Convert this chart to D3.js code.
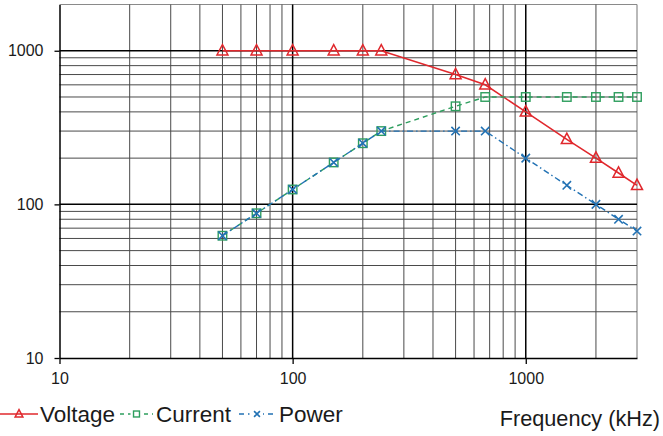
<!DOCTYPE html>
<html>
<head>
<meta charset="utf-8">
<script src="https://cdn.jsdelivr.net/npm/d3@7"></script>
<style>
  html, body { margin: 0; padding: 0; background: #fff; }
  svg { display: block; font-family: "Liberation Sans", Arial, sans-serif; }
</style>
</head>
<body>
<svg id="chart" width="663" height="436"></svg>
<script>
// ---- data ----
const freq    = [50, 70, 100, 150, 200, 240, 500, 670, 1000, 1500, 2000, 2500, 3000];
const voltage = [1000, 1000, 1000, 1000, 1000, 1000, 700, 600, 400, 265, 200, 160, 133];
const current = [62.5, 87.5, 125, 187.5, 250, 300, 435, 500, 500, 500, 500, 500, 500];
const power   = [62.5, 87.5, 125, 187.5, 250, 300, 300, 300, 200, 133, 100, 80, 67];
const xTickLabels = [10, 100, 1000];
const yTickLabels = [10, 100, 1000];
const seriesNames = ["Voltage", "Current", "Power"];
const xTitle = "Frequency (kHz)";

// ---- layout ----
const svg = d3.select("#chart");
const L = 59.5, R = 637, T = 4.5, B = 358;
const x = d3.scaleLog().domain([10, 3000]).range([L, R]);
const y = d3.scaleLog().domain([10, 2000]).range([B, T]);

const colors = { Voltage: "#e0282d", Current: "#2e9e5e", Power: "#2272b4" };

// minor / major grid values
const xMinor = [], yMinor = [];
[10, 100, 1000].forEach(d => { for (let k = 2; k <= 9; k++) { if (d * k < 3000) xMinor.push(d * k); if (d * k < 2000) yMinor.push(d * k); } });
const xMajor = [100, 1000], yMajor = [100, 1000];

const g = svg.append("g");
// outer border (top/right) gray
g.append("line").attr("x1", L).attr("x2", R).attr("y1", T).attr("y2", T).attr("stroke", "#8a8a8a").attr("stroke-width", 1.2);
g.append("line").attr("x1", R).attr("x2", R).attr("y1", T).attr("y2", B).attr("stroke", "#8a8a8a").attr("stroke-width", 1.2);

g.selectAll(".vmin").data(xMinor).join("line")
  .attr("x1", d => x(d)).attr("x2", d => x(d)).attr("y1", T).attr("y2", B)
  .attr("stroke", "#4a4a4a").attr("stroke-width", 1);
g.selectAll(".hmin").data(yMinor).join("line")
  .attr("y1", d => y(d)).attr("y2", d => y(d)).attr("x1", L).attr("x2", R)
  .attr("stroke", "#4a4a4a").attr("stroke-width", 1);
g.selectAll(".vmaj").data(xMajor).join("line")
  .attr("x1", d => x(d)).attr("x2", d => x(d)).attr("y1", T).attr("y2", B)
  .attr("stroke", "#000").attr("stroke-width", 1.5);
g.selectAll(".hmaj").data(yMajor).join("line")
  .attr("y1", d => y(d)).attr("y2", d => y(d)).attr("x1", L).attr("x2", R)
  .attr("stroke", "#000").attr("stroke-width", 1.5);

// axes
const xAxis = d3.axisBottom(x).tickValues(xTickLabels).tickFormat(d3.format("d")).tickSize(6).tickSizeOuter(0).tickPadding(9);
const yAxis = d3.axisLeft(y).tickValues(yTickLabels).tickFormat(d3.format("d")).tickSize(5).tickSizeOuter(0).tickPadding(11);
const gx = svg.append("g").attr("transform", `translate(0,${B})`).call(xAxis);
const gy = svg.append("g").attr("transform", `translate(${L},0)`).call(yAxis);
[gx, gy].forEach(a => {
  a.select(".domain").attr("stroke", "#000").attr("stroke-width", 1.5);
  a.selectAll(".tick line").attr("stroke", "#000").attr("stroke-width", 1.3);
  a.selectAll(".tick text").attr("font-size", 16).attr("fill", "#1a1a1a").attr("font-family", "'Liberation Sans', Arial, sans-serif");
});

// series
const series = [
  { name: "Voltage", values: voltage, dash: null, marker: "tri" },
  { name: "Current", values: current, dash: "5,4", marker: "sq" },
  { name: "Power",   values: power,   dash: "6,3,1.5,3", marker: "x" }
];
const line = d3.line().x(d => x(d[0])).y(d => y(d[1]));

function drawMarker(sel, type, color, size) {
  if (type === "tri") {
    const s = size;
    sel.append("path").attr("d", `M0,${-s*0.62}L${s*0.55},${s*0.42}L${-s*0.55},${s*0.42}Z`)
      .attr("fill", "none").attr("stroke", color).attr("stroke-width", 1.5);
  } else if (type === "sq") {
    const s = size * 0.85;
    sel.append("rect").attr("x", -s/2).attr("y", -s/2).attr("width", s).attr("height", s)
      .attr("fill", "none").attr("stroke", color).attr("stroke-width", 1.4);
  } else {
    const s = size * 0.42;
    sel.append("path").attr("d", `M${-s},${-s}L${s},${s}M${-s},${s}L${s},${-s}`)
      .attr("stroke", color).attr("stroke-width", 1.6).attr("fill", "none");
  }
}

series.forEach(s => {
  const pts = freq.map((f, i) => [f, s.values[i]]);
  const c = colors[s.name];
  svg.append("path").datum(pts).attr("d", line).attr("fill", "none")
    .attr("stroke", c).attr("stroke-width", s.name === "Voltage" ? 1.6 : 1.4)
    .attr("stroke-dasharray", s.dash);
  pts.forEach(p => {
    const m = svg.append("g").attr("transform", `translate(${x(p[0])},${y(p[1])})`);
    drawMarker(m, s.marker, c, 10);
  });
});

// legend
const leg = svg.append("g").attr("transform", "translate(0,414)");
const legItems = [
  { name: "Voltage", x0: 0, x1: 38, tx: 40 },
  { name: "Current", x0: 120, x1: 153, tx: 156 },
  { name: "Power", x0: 239, x1: 275, tx: 279 }
];
legItems.forEach((it, i) => {
  const s = series[i];
  const c = colors[it.name];
  leg.append("line").attr("x1", it.x0).attr("x2", it.x1).attr("y1", 0).attr("y2", 0)
    .attr("stroke", c).attr("stroke-width", 1.4).attr("stroke-dasharray", s.dash ? (i === 1 ? "4,4" : "5,4,1.5,4") : null);
  if (s.dash) {
    const mid = (it.x0 + it.x1) / 2;
    leg.append("rect").attr("x", mid - 6).attr("y", -6).attr("width", 12).attr("height", 12).attr("fill", "#fff");
  }
  const m = leg.append("g").attr("transform", `translate(${(it.x0 + it.x1) / 2},0)`);
  drawMarker(m, s.marker, c, 7);
  leg.append("text").attr("x", it.tx).attr("y", 8).attr("font-size", 22.5).attr("fill", "#1a1a1a").text(it.name);
});

svg.append("text").attr("x", 660).attr("y", 426).attr("text-anchor", "end")
  .attr("font-size", 21.7).attr("fill", "#1a1a1a").text(xTitle);
</script>
</body>
</html>
